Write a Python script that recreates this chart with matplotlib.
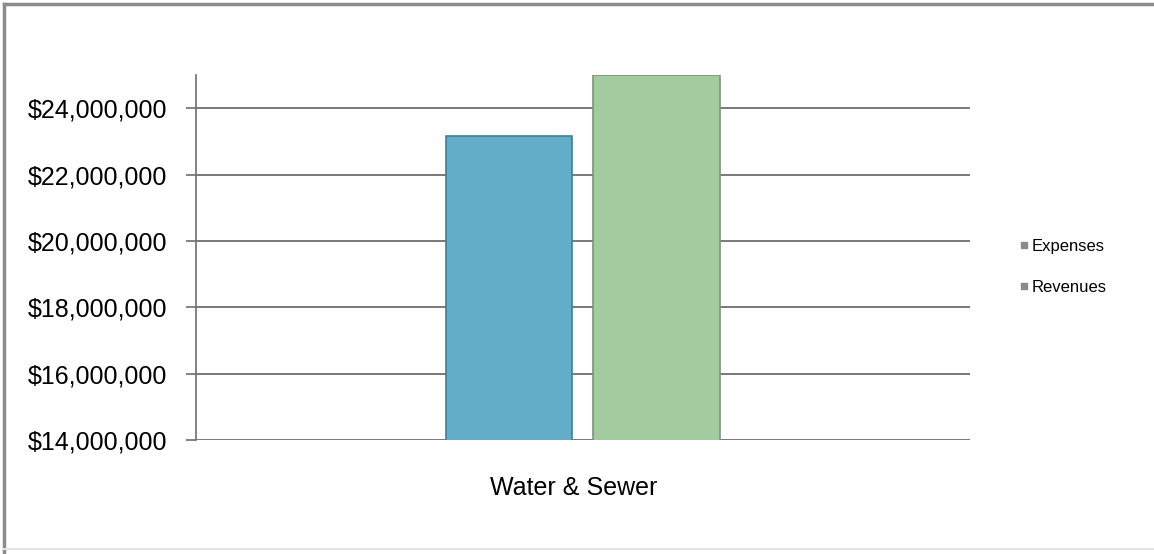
import matplotlib.pyplot as plt
from matplotlib.lines import Line2D
from matplotlib.ticker import FuncFormatter

plt.rcParams['font.family'] = ['Liberation Sans', 'DejaVu Sans']

# Valores do fundo Water & Sewer
categoria = 'Water & Sewer'
series = ['Expenses', 'Revenues']
valores = [23160000, 25000000]
cores = ['#63adc9', '#a2cc9f']
bordas = ['#3f8097', '#7d947b']

fig = plt.figure(figsize=(11.54, 5.54), dpi=100)
ax = fig.add_axes([0.1698, 0.2058, 0.6708, 0.6588])

largura = 0.163
deslocamentos = [-0.0956, 0.095]
for nome, v, d, c, b in zip(series, valores, deslocamentos, cores, bordas):
    ax.bar(d, v, width=largura, color=c, edgecolor=b, linewidth=1.2,
           label=nome, zorder=3, clip_on=True)

ax.set_xlim(-0.5, 0.5)
ax.set_ylim(14000000, 25000000)
ax.set_yticks(range(14000000, 24000001, 2000000))
ax.yaxis.set_major_formatter(FuncFormatter(lambda v, p: '${:,.0f}'.format(v)))
ax.tick_params(axis='y', labelsize=18, length=7, width=1.2, color='#6e6e6e', pad=14)
ax.set_xticks([])
ax.grid(axis='y', color='#6e6e6e', linewidth=1.3, zorder=1)

for lado in ['top', 'right', 'bottom']:
    ax.spines[lado].set_visible(False)
ax.spines['left'].set_color('#6e6e6e')
ax.spines['left'].set_linewidth(1.2)

fig.text(0.4974, 0.119, categoria, fontsize=18, ha='center', va='center')

# Legenda com marcadores pequenos cinza
handles = [Line2D([], [], marker='s', linestyle='', markersize=5,
                  markerfacecolor='#8a8a8a', markeredgecolor='#8a8a8a') for _ in series]
fig.legend(handles, series, loc='center left', bbox_to_anchor=(0.868, 0.518),
           frameon=False, fontsize=12, handletextpad=0.0, labelspacing=1.55,
           handlelength=0.9)

# Moldura do gráfico
fig.add_artist(Line2D([0.0035, 1.0], [0.9928, 0.9928], color='#8c8c8c', linewidth=2.5))
fig.add_artist(Line2D([0.0035, 0.0035], [0.0, 0.9928], color='#8c8c8c', linewidth=2.5))
fig.add_artist(Line2D([0.0035, 1.0], [0.009, 0.009], color='#e4e4e4', linewidth=1.5))

fig.savefig('out.png', dpi=100)
